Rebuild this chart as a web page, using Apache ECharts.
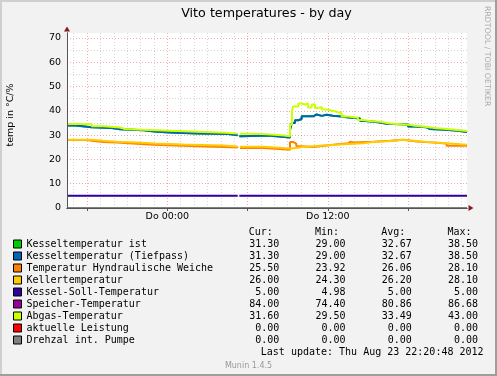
<!DOCTYPE html>
<html><head><meta charset="utf-8">
<script src="https://cdn.jsdelivr.net/npm/echarts@6/dist/echarts.min.js"></script>
<style>html,body{margin:0;padding:0;background:#f2f2f2;}#c{width:497px;height:376px;}</style>
</head><body><div id="c"></div>
<script>
// ---- data (x = hours relative to Thu 00:00) ----
const seriesNames = ['Kesseltemperatur ist','Kesseltemperatur (Tiefpass)','Temperatur Hyndraulische Weiche','Kellertemperatur','Kessel-Soll-Temperatur','Speicher-Temperatur','Abgas-Temperatur','aktuelle Leistung','Drehzal int. Pumpe'];
const seriesColors = ['#00CC00','#0066B3','#FF8000','#FFCC00','#330099','#990099','#CCFF00','#FF0000','#808080'];
const curVals = ['31.30','31.30','25.50','26.00','5.00','84.00','31.60','0.00','0.00'];
const minVals = ['29.00','29.00','23.92','24.30','4.98','74.40','29.50','0.00','0.00'];
const avgVals = ['32.67','32.67','26.06','26.20','5.00','80.86','33.49','0.00','0.00'];
const maxVals = ['38.50','38.50','28.10','28.10','5.00','86.68','43.00','0.00','0.00'];
const timeLabels = {'0':'Do 00:00','120':'Do 12:00'};
const yTickLabels = [0,10,20,30,40,50,60,70];
const lastUpdate = 'Last update: Thu Aug 23 22:20:48 2012';

const kesselIst = [[-7.5,33.9],[-6.87,33.2],[-5.65,32.9],[-4.16,32.4],[-3.54,32.0],[-1.79,31.4],[-0.79,31.0],[0.58,30.7],[2.32,30.4],[4.56,29.9],[5.26,29.9],[5.31,null],[5.38,29.5],[5.56,29.8],[7.55,29.0],[9.17,32.2],[9.30,35.0],[9.54,36.1],[9.79,36.6],[10.04,37.7],[10.91,38.5],[11.16,37.9],[11.54,38.4],[11.91,38.0],[12.38,37.6],[13.03,37.3],[13.41,36.8],[14.40,35.9],[14.63,35.4],[15.65,34.7],[16.40,34.4],[17.99,33.5],[18.51,33.2],[19.39,32.5],[19.63,32.2],[20.75,31.8],[21.73,31.3],[22.4,31.3]];
const kesselTiefpass = [[-7.5,33.9],[-6.87,33.2],[-5.65,32.9],[-4.16,32.4],[-3.54,32.0],[-1.79,31.4],[-0.79,31.0],[0.58,30.7],[2.32,30.4],[4.56,29.9],[5.26,29.9],[5.31,null],[5.38,29.5],[5.56,29.8],[7.55,29.0],[9.17,32.2],[9.30,35.0],[9.54,36.1],[9.79,36.6],[10.04,37.7],[10.91,38.5],[11.16,37.9],[11.54,38.4],[11.91,38.0],[12.38,37.6],[13.03,37.3],[13.41,36.8],[14.40,35.9],[14.63,35.4],[15.65,34.7],[16.40,34.4],[17.99,33.5],[18.51,33.2],[19.39,32.5],[19.63,32.2],[20.75,31.8],[21.73,31.3],[22.4,31.3]];
const hydrWeiche = [[-7.5,28.0],[-6.0,27.6],[-5.5,27.2],[-4.78,26.9],[-3.78,26.4],[-2.29,26.0],[-1.05,25.5],[1.70,25.1],[4.19,24.9],[5.26,24.9],[5.31,null],[5.43,24.7],[7.15,24.3],[8.42,23.95],[9.17,27.2],[9.39,26.5],[9.64,25.4],[10.04,25.1],[10.91,25.7],[11.91,26.3],[12.91,26.6],[13.53,27.3],[13.70,27.0],[13.90,27.3],[15.40,27.7],[16.64,28.1],[17.64,27.4],[18.64,27.0],[19.63,26.5],[20.88,25.6],[22.4,25.6]];
const keller = [[-7.5,28.1],[-5.65,27.7],[-4.78,27.3],[-3.78,26.9],[-2.29,26.5],[-0.92,26.1],[1.20,25.7],[4.19,25.3],[5.26,25.3],[5.31,null],[5.43,25.2],[7.15,24.8],[8.42,24.4],[9.17,25.1],[10.14,25.7],[11.64,26.1],[12.91,26.6],[14.63,27.2],[15.40,27.7],[17.02,28.1],[17.52,27.7],[18.39,27.2],[19.48,26.6],[20.88,26.0],[22.4,26.0]];
const kesselSoll = [[-7.5,5],[5.26,5],[5.31,null],[5.38,5],[22.4,5]];
const speicher = [[-7.5,80.5],[0.0,76.0],[5.0,74.4],[10.0,82.0],[15.0,86.68],[22.4,84.0]];
const abgas = [[-7.5,34.6],[-5.65,33.6],[-4.78,33.1],[-3.54,32.5],[-3.16,32.2],[-1.91,31.8],[0.20,31.4],[2.32,31.0],[4.31,30.6],[5.26,30.6],[5.31,null],[5.43,30.6],[6.18,30.3],[7.43,29.9],[8.55,29.5],[9.17,34.3],[9.32,39.8],[9.39,41.8],[9.79,43.0],[10.04,42.6],[10.29,43.0],[10.52,41.4],[10.79,42.6],[11.04,41.1],[11.26,41.6],[11.54,40.5],[11.91,39.8],[12.53,39.0],[13.03,37.6],[13.53,37.1],[14.25,36.2],[14.63,35.8],[15.15,35.5],[15.90,34.8],[16.64,34.3],[17.99,33.8],[18.51,33.3],[19.39,32.8],[20.13,32.5],[20.88,32.3],[21.26,31.7],[22.4,31.7]];
const leistung = [[-7.5,0],[22.4,0]];
const drehzahl = [[-7.5,0],[22.4,0]];
const seriesData = [kesselIst,kesselTiefpass,hydrWeiche,keller,kesselSoll,speicher,abgas,leistung,drehzahl];

// ---- axis scaffolding ----
const xMin = -7.5, xMax = 22.4, yMin = 0, yMax = 72;
const tenthTicks = [];
for (let t = Math.round(xMin*10); t <= Math.round(xMax*10); t++) tenthTicks.push(String(t));

const MONO = '"DejaVu Sans Mono", monospace';
const SANS = '"DejaVu Sans", sans-serif';
const gridMinor = 'rgba(150,150,150,0.4)';
const gridMajor = 'rgba(225,90,90,0.5)';

function rowText(name){
  const i = seriesNames.indexOf(name);
  return name.padEnd(37) + curVals[i].padStart(5) + minVals[i].padStart(11) + avgVals[i].padStart(11) + maxVals[i].padStart(11);
}
const headerText = ' '.repeat(37)+'Cur:'+' '.repeat(7)+'Min:'+' '.repeat(7)+'Avg:'+' '.repeat(7)+'Max:';

const chart = echarts.init(document.getElementById('c'), null, {renderer:'canvas'});
const noAxisParts = {axisLabel:{show:false}, axisTick:{show:false}, splitLine:{show:false}};
chart.setOption({
  animation:false,
  backgroundColor:'#f2f2f2',
  grid:{left:67, right:30, top:33, height:175, show:true, backgroundColor:'#ffffff', borderWidth:0, containLabel:false, outerBoundsMode:'none'},
  xAxis:[
    Object.assign({type:'value', min:xMin, max:xMax, position:'bottom', z:3,
      axisLine:{show:true, onZero:false, lineStyle:{color:'#7f1f1f', width:1}, symbol:['none','triangle'], symbolSize:[6,5], symbolOffset:[0,4]}}, noAxisParts),
    Object.assign({type:'value', min:xMin, max:xMax, position:'bottom', z:4,
      axisLine:{show:true, onZero:false, lineStyle:{color:'#555555', width:1}}}, noAxisParts),
    {type:'category', data:tenthTicks, boundaryGap:false, position:'bottom', z:0,
      axisLine:{show:false, onZero:false},
      axisTick:{show:true, interval:(i,v)=>(+v)%60===0, length:3, lineStyle:{color:'#555'}},
      axisLabel:{show:true, interval:(i,v)=>(v in timeLabels), formatter:v=>timeLabels[v]||'', color:'#000', fontFamily:SANS, fontSize:9.5, margin:4},
      splitLine:{show:true, interval:(i,v)=>(+v)%10===0, lineStyle:{color:[gridMinor,gridMajor,gridMinor,gridMinor,gridMinor,gridMinor], type:[1,2], width:1}}}
  ],
  yAxis:[
    {type:'value', min:yMin, max:yMax, interval:5, position:'left', z:0,
      axisLine:{show:false, onZero:false}, axisTick:{show:false},
      axisLabel:{show:true, formatter:v=>(yTickLabels.indexOf(v)>=0?String(v):''), color:'#000', fontFamily:SANS, fontSize:9.5, margin:6},
      splitLine:{show:true, showMinLine:false, showMaxLine:false, lineStyle:{color:[gridMinor,gridMajor], type:[1,2], width:1}}},
    Object.assign({type:'value', min:yMin, max:yMax, position:'left', z:3,
      axisLine:{show:true, onZero:false, lineStyle:{color:'#7f1f1f', width:1}, symbol:['none','triangle'], symbolSize:[6,5], symbolOffset:[0,4]}}, noAxisParts),
    Object.assign({type:'value', min:yMin, max:yMax, position:'left', z:4,
      axisLine:{show:true, onZero:false, lineStyle:{color:'#555555', width:1}}}, noAxisParts)
  ],
  legend:{show:true, orient:'vertical', left:13, top:238, padding:0, itemGap:0, itemWidth:8, itemHeight:8,
    icon:'rect', selectedMode:false, data:seriesNames,
    itemStyle:{borderColor:'#000', borderWidth:1},
    textStyle:{fontFamily:MONO, fontSize:10, color:'#000', lineHeight:12},
    formatter:rowText},
  series: seriesNames.map((n,i)=>({
    name:n, type:'line', xAxisIndex:0, yAxisIndex:0, data:seriesData[i], step:'end',
    showSymbol:false, symbol:'none', connectNulls:false, clip:true, z:2,
    color:seriesColors[i], lineStyle:{color:seriesColors[i], width:2}, itemStyle:{color:seriesColors[i]}
  })),
  graphic:[
    {type:'rect', silent:true, shape:{x:0,y:0,width:497,height:2}, style:{fill:'#cfcfcf'}},
    {type:'rect', silent:true, shape:{x:0,y:0,width:2,height:376}, style:{fill:'#cfcfcf'}},
    {type:'rect', silent:true, shape:{x:495,y:0,width:2,height:376}, style:{fill:'#9e9e9e'}},
    {type:'rect', silent:true, shape:{x:0,y:374,width:497,height:2}, style:{fill:'#9e9e9e'}},
    {type:'text', silent:true, x:266.5, y:14, style:{text:'Vito temperatures - by day', font:'12.7px '+SANS, fill:'#000', textAlign:'center', align:'center', textVerticalAlign:'middle', verticalAlign:'middle'}},
    {type:'text', silent:true, x:11, y:115, rotation:Math.PI/2, style:{text:'temp in °C/%', font:'9.5px '+SANS, fill:'#000', textAlign:'center', align:'center', textVerticalAlign:'middle', verticalAlign:'middle'}},
    {type:'text', silent:true, x:487.5, y:6, rotation:-Math.PI/2, style:{text:'RRDTOOL / TOBI OETIKER', font:'7.8px '+SANS, fill:'#aaaaaa', textAlign:'left', align:'left', textVerticalAlign:'middle', verticalAlign:'middle'}},
    {type:'text', silent:true, x:26, y:232, style:{text:headerText, font:'10px '+MONO, fill:'#000', textAlign:'left', align:'left', textVerticalAlign:'middle', verticalAlign:'middle'}},
    {type:'text', silent:true, x:26, y:352, style:{text:' '.repeat(39)+lastUpdate, font:'10px '+MONO, fill:'#000', textAlign:'left', align:'left', textVerticalAlign:'middle', verticalAlign:'middle'}},
    {type:'text', silent:true, x:248.5, y:366, style:{text:'Munin 1.4.5', font:'8px '+SANS, fill:'#999999', textAlign:'center', align:'center', textVerticalAlign:'middle', verticalAlign:'middle'}}
  ]
});
</script>
</body></html>
